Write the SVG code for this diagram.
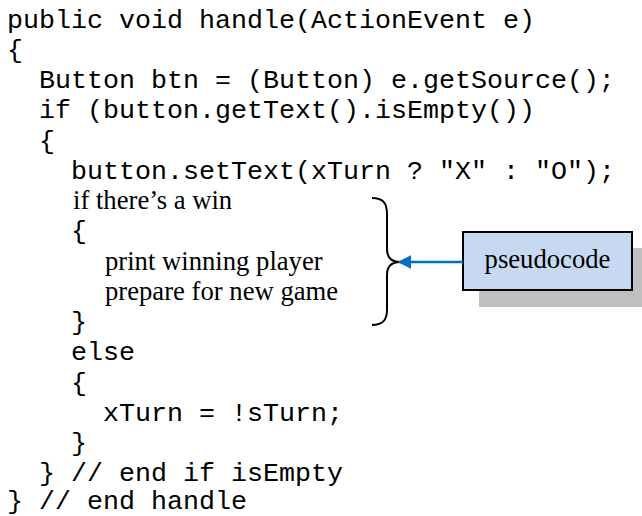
<svg xmlns="http://www.w3.org/2000/svg" width="642" height="516" viewBox="0 0 642 516">
  <defs>
    <style>
      .code { font-family: "Courier New", "Nimbus Mono PS", FreeMono, "Liberation Mono", monospace; font-size: 26.67px; fill: #000; }
      .pseudo { font-family: "Liberation Serif", "Times New Roman", serif; font-size: 26.67px; fill: #000; }
      .brace { fill: none; stroke: #000; stroke-width: 2; }
      .link { fill: none; stroke: #0070C0; stroke-width: 2.5; }
    </style>
    <marker id="arrowhead" viewBox="0 0 10 10" refX="9" refY="5" markerWidth="5.5" markerHeight="5.5" orient="auto" markerUnits="strokeWidth">
      <path d="M0,0 L10,5 L0,10 z" fill="#0070C0"/>
    </marker>
  </defs>

  <rect x="0" y="0" width="642" height="516" fill="#fff"/>

  <!-- event handler listing -->
  <g id="code">
    <text class="code" x="7" y="27.5">public void handle(ActionEvent e)</text>
    <text class="code" x="7" y="57.8">{</text>
    <text class="code" x="39" y="88">Button btn = (Button) e.getSource();</text>
    <text class="code" x="39" y="118.3">if (button.getText().isEmpty())</text>
    <text class="code" x="39" y="148.5">{</text>
    <text class="code" x="71" y="178.8">button.setText(xTurn ? "X" : "O");</text>
    <text class="pseudo" x="73" y="209">if there’s a win</text>
    <text class="code" x="71" y="239.3">{</text>
    <text class="pseudo" x="105" y="269.5">print winning player</text>
    <text class="pseudo" x="105" y="299.8">prepare for new game</text>
    <text class="code" x="71" y="330">}</text>
    <text class="code" x="71" y="360.3">else</text>
    <text class="code" x="71" y="390.5">{</text>
    <text class="code" x="103" y="420.8">xTurn = !sTurn;</text>
    <text class="code" x="71" y="451">}</text>
    <text class="code" x="39" y="481.3">} // end if isEmpty</text>
    <text class="code" x="7" y="508.5">} // end handle</text>
  </g>

  <!-- curly brace grouping the pseudocode lines -->
  <g id="brace">
    <path class="brace" d="M372,198 C383,198 387,203 387,214 L387,249 C387,258 391,262 400,262 C391,262 387,266 387,275 L387,310 C387,320 383,325 372,325"/>
  </g>

  <!-- callout box with drop shadow -->
  <g id="pseudocode-label">
    <rect x="479" y="248" width="163" height="59" fill="#BFBFBF"/>
    <rect x="463" y="232" width="169" height="58" fill="#C6D9F1" stroke="#000" stroke-width="2"/>
    <text class="pseudo" x="547.5" y="267.5" text-anchor="middle">pseudocode</text>
  </g>

  <g id="connectors">
    <line class="link" x1="463" y1="262" x2="399" y2="262" marker-end="url(#arrowhead)"/>
  </g>
</svg>
